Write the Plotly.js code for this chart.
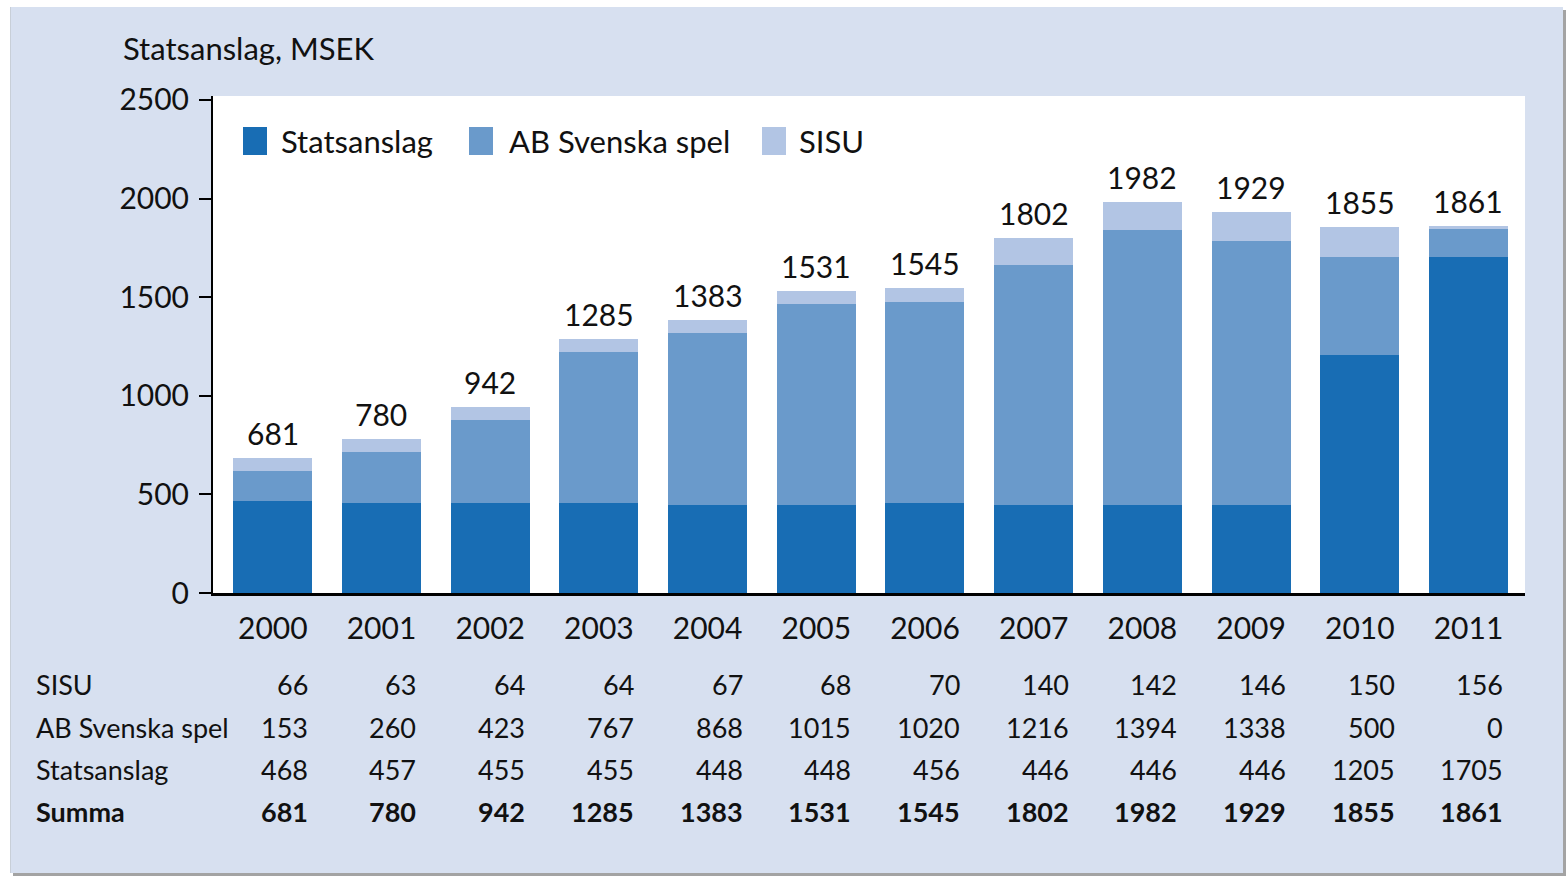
<!DOCTYPE html>
<html>
<head>
<meta charset="utf-8">
<script src="https://cdn.plot.ly/plotly-3.0.1.min.js"></script>
<style>
  html, body { margin:0; padding:0; background:#ffffff; }
  #frame { position:absolute; left:10px; top:7px; width:1552px; height:866px;
           background:#d7e0f0; border-left:1px solid #c8cfd8;
           box-shadow: 3px 3px 0 #a3a3a3; }
  #chart { position:absolute; left:0; top:0; width:1568px; height:877px; }
</style>
</head>
<body>
<div id="frame"></div>
<div id="chart"></div>
<script>
// ---- data ----
const years = ['2000','2001','2002','2003','2004','2005','2006','2007','2008','2009','2010','2011'];
// table values (as printed)
const sisu        = [66, 63, 64, 64, 67, 68, 70, 140, 142, 146, 150, 156];
const abSvenska   = [153, 260, 423, 767, 868, 1015, 1020, 1216, 1394, 1338, 500, 0];
const statsanslag = [468, 457, 455, 455, 448, 448, 456, 446, 446, 446, 1205, 1705];
const summa       = [681, 780, 942, 1285, 1383, 1531, 1545, 1802, 1982, 1929, 1855, 1861];
// bar segments as drawn in the picture (2011 drawn with a mid-blue segment)
const barStat  = [468, 457, 455, 455, 448, 448, 456, 446, 446, 446, 1205, 1705];
const barAB    = [153, 260, 423, 767, 868, 1015, 1020, 1216, 1394, 1338, 500, 140];
const barSISU  = [66, 63, 64, 64, 67, 68, 70, 140, 142, 146, 150, 16];
const seriesNames = ['Statsanslag', 'AB Svenska spel', 'SISU'];
const rowLabels = ['SISU', 'AB Svenska spel', 'Statsanslag', 'Summa'];
const yTicks = [0, 500, 1000, 1500, 2000, 2500];
const yTitle = 'Statsanslag, MSEK';

// ---- style ----
const C_DARK = '#186db4', C_MID = '#6a9acb', C_LIGHT = '#b2c5e4';
const FONT = 'Lato, "Open Sans", sans-serif';
const W = 1568, H = 877;
const L = 213, R = 43, T = 96, B = 284;
const PW = W - L - R, PH = H - T - B;
const px2x = p => (p - L) / PW;
const px2y = p => (H - B - p) / PH;
const idx = years.map((_, i) => i);

const traces = [
  {type:'bar', name:seriesNames[0], x:idx, y:barStat, marker:{color:C_DARK, line:{width:0}}},
  {type:'bar', name:seriesNames[1], x:idx, y:barAB, marker:{color:C_MID, line:{width:0}}},
  {type:'bar', name:seriesNames[2], x:idx, y:barSISU, marker:{color:C_LIGHT, line:{width:0}}}
];

const annotations = [];
const shapes = [];

// y title
annotations.push({xref:'paper', yref:'paper', x:px2x(121), y:px2y(48), xanchor:'left', yanchor:'middle',
  text:yTitle, showarrow:false, font:{family:FONT, size:31, color:'#111'}});

// totals above bars
idx.forEach(i => {
  const top = barStat[i] + barAB[i] + barSISU[i];
  annotations.push({xref:'x', yref:'y', x:i, y:top, yanchor:'bottom', yshift:5,
    text:String(summa[i]), showarrow:false, font:{family:FONT, size:30, color:'#111'}});
});

// legend (manual, large swatches)
const legendItems = [
  {name:seriesNames[0], color:C_DARK, x0:243, tx:279},
  {name:seriesNames[1], color:C_MID, x0:469, tx:507},
  {name:seriesNames[2], color:C_LIGHT, x0:762, tx:797}
];
legendItems.forEach(it => {
  shapes.push({type:'rect', xref:'paper', yref:'paper', x0:px2x(it.x0), x1:px2x(it.x0+24),
    y0:px2y(155), y1:px2y(127), fillcolor:it.color, line:{width:0}});
  annotations.push({xref:'paper', yref:'paper', x:px2x(it.tx), y:px2y(141), xanchor:'left', yanchor:'middle',
    text:it.name, showarrow:false, font:{family:FONT, size:31, color:'#111'}});
});

// table below chart
const rows = [sisu, abSvenska, statsanslag, summa];
const rowY = [685, 727, 769, 811];
rows.forEach((arr, r) => {
  const bold = r === 3;
  annotations.push({xref:'paper', yref:'paper', x:px2x(34), y:px2y(rowY[r]), xanchor:'left', yanchor:'middle',
    text: bold ? '<b>' + rowLabels[r] + '</b>' : rowLabels[r], showarrow:false,
    font:{family:FONT, size:27, color:'#111'}});
  idx.forEach(i => {
    annotations.push({xref:'x', yref:'paper', x:i, y:px2y(rowY[r]), xanchor:'right', yanchor:'middle',
      xshift:37, text: bold ? '<b>' + arr[i] + '</b>' : String(arr[i]), showarrow:false,
      font:{family:FONT, size:27, color:'#111'}});
  });
});

const layout = {
  width:W, height:H,
  margin:{l:L, r:R, t:T, b:B, pad:0},
  paper_bgcolor:'rgba(0,0,0,0)',
  plot_bgcolor:'#ffffff',
  barmode:'stack',
  bargap:0.273,
  showlegend:false,
  font:{family:FONT, color:'#111'},
  xaxis:{type:'linear', range:[-0.55, 11.52], autorange:false, tickvals:idx, ticktext:years,
    showline:true, linecolor:'#000', linewidth:3, ticks:'',
    tickfont:{family:FONT, size:30, color:'#111'}, ticklabelstandoff:7, showgrid:false, zeroline:false,
    fixedrange:true},
  yaxis:{range:[0, 2520], autorange:false, tickvals:yTicks, ticktext:yTicks.map(String), showline:true, linecolor:'#000', linewidth:2,
    ticks:'outside', ticklen:12, tickwidth:2, tickcolor:'#000', ticklabelstandoff:4,
    tickfont:{family:FONT, size:30, color:'#111'}, showgrid:false, zeroline:false, fixedrange:true},
  annotations:annotations,
  shapes:shapes
};

Plotly.newPlot('chart', traces, layout, {displayModeBar:false, staticPlot:true});
</script>
</body>
</html>
